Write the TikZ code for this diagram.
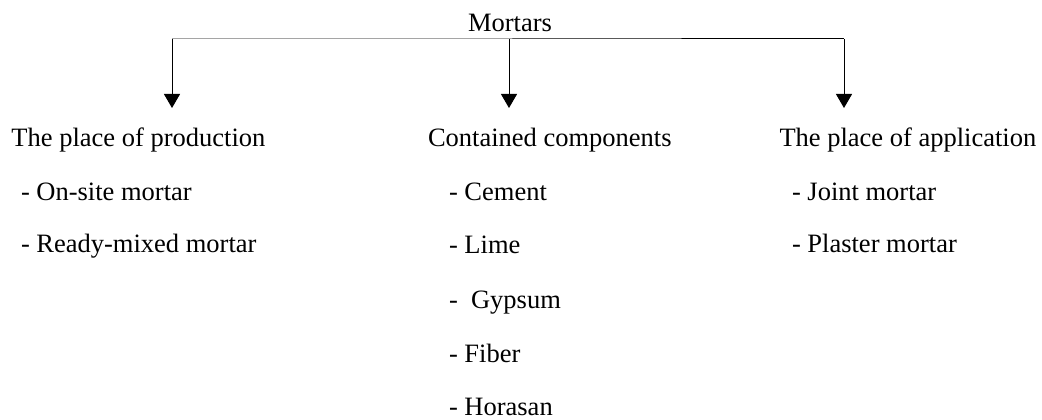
\documentclass[tikz,border=0pt]{standalone}
\usepackage{fontspec}
\setmainfont{Liberation Serif}
\usetikzlibrary{arrows.meta}
\begin{document}
\begin{tikzpicture}[x=1pt,y=-1pt,
  txt/.style={inner sep=0pt,outer sep=0pt,anchor=base west,
    font=\fontsize{26.5}{30}\selectfont},
  bar/.style={line width=1pt},
  down/.style={line width=1pt,-{Triangle[length=14pt,width=16pt]}}]
  \useasboundingbox[fill=white] (0,0) rectangle (1042,420);

  % root label and distribution bar
  \node[txt,anchor=base] (root) at (510,32) {Mortars};
  \coordinate (b1) at (172,39);
  \coordinate (b2) at (509,39);
  \coordinate (b3) at (844,39);
  \coordinate (t1) at (172,108);
  \coordinate (t2) at (509,108);
  \coordinate (t3) at (844,108);
  \draw[bar] (b1) -- (b2) -- (b3);
  \draw[down] (b1) -- (t1);
  \draw[down] (b2) -- (t2);
  \draw[down] (b3) -- (t3);

  % classification by place of production
  \node[txt] (h1) at (11.5,146) {The place of production};
  \node[txt] (p1) at (21,200) {- On-site mortar};
  \node[txt] (p2) at (21,252.5) {- Ready-mixed mortar};

  % classification by contained components
  \node[txt] (h2) at (428,146) {Contained components};
  \node[txt] (c1) at (449,200) {- Cement};
  \node[txt] (c2) at (449,253) {- Lime};
  \node[txt] (c3) at (449,308) {-\ \ Gypsum};
  \node[txt] (c4) at (449,362) {- Fiber};
  \node[txt] (c5) at (449,415) {- Horasan};

  % classification by place of application
  \node[txt] (h3) at (779.5,146) {The place of application};
  \node[txt] (a1) at (792,200) {- Joint mortar};
  \node[txt] (a2) at (792,252.5) {- Plaster mortar};
\end{tikzpicture}
\end{document}
